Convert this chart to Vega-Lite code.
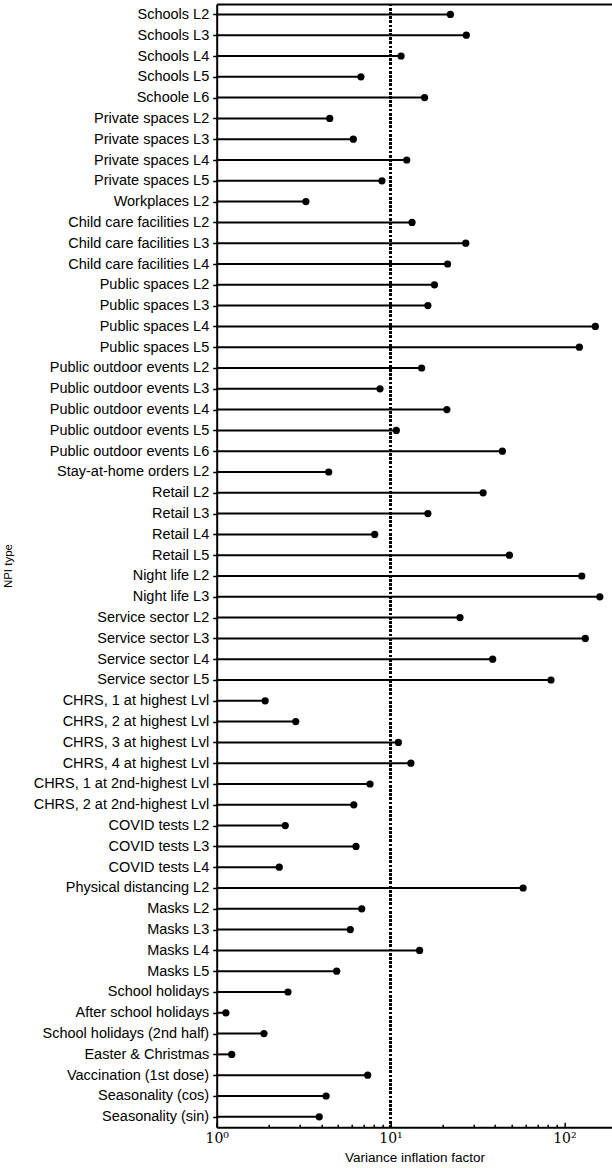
{
  "$schema": "https://vega.github.io/schema/vega-lite/v6.json",
  "autosize": "none",
  "width": 395.5,
  "height": 1123.2,
  "padding": {"left": 216.7, "top": 4, "right": 0, "bottom": 41},
  "background": "white",
  "view": {"stroke": null, "fill": null},
  "config": {
    "font": "Liberation Sans",
    "axis": {"domainColor": "black", "tickColor": "black", "labelColor": "black", "titleColor": "black", "domainWidth": 2, "grid": false}
  },
  "resolve": {"axis": {"x": "independent"}},
  "data": {"values": [
    {"npi": "Schools L2", "vif": 22.1},
    {"npi": "Schools L3", "vif": 27.3},
    {"npi": "Schools L4", "vif": 11.5},
    {"npi": "Schools L5", "vif": 6.76},
    {"npi": "Schoole L6", "vif": 15.7},
    {"npi": "Private spaces L2", "vif": 4.47},
    {"npi": "Private spaces L3", "vif": 6.11},
    {"npi": "Private spaces L4", "vif": 12.4},
    {"npi": "Private spaces L5", "vif": 8.93},
    {"npi": "Workplaces L2", "vif": 3.26},
    {"npi": "Child care facilities L2", "vif": 13.3},
    {"npi": "Child care facilities L3", "vif": 27.1},
    {"npi": "Child care facilities L4", "vif": 21.3},
    {"npi": "Public spaces L2", "vif": 17.9},
    {"npi": "Public spaces L3", "vif": 16.4},
    {"npi": "Public spaces L4", "vif": 150.8},
    {"npi": "Public spaces L5", "vif": 122},
    {"npi": "Public outdoor events L2", "vif": 15.1},
    {"npi": "Public outdoor events L3", "vif": 8.7},
    {"npi": "Public outdoor events L4", "vif": 21.1},
    {"npi": "Public outdoor events L5", "vif": 10.8},
    {"npi": "Public outdoor events L6", "vif": 44.0},
    {"npi": "Stay-at-home orders L2", "vif": 4.41},
    {"npi": "Retail L2", "vif": 34.1},
    {"npi": "Retail L3", "vif": 16.4},
    {"npi": "Retail L4", "vif": 8.11},
    {"npi": "Retail L5", "vif": 48.3},
    {"npi": "Night life L2", "vif": 126},
    {"npi": "Night life L3", "vif": 160},
    {"npi": "Service sector L2", "vif": 25.1},
    {"npi": "Service sector L3", "vif": 132},
    {"npi": "Service sector L4", "vif": 38.7},
    {"npi": "Service sector L5", "vif": 83.8},
    {"npi": "CHRS, 1 at highest Lvl", "vif": 1.9},
    {"npi": "CHRS, 2 at highest Lvl", "vif": 2.85},
    {"npi": "CHRS, 3 at highest Lvl", "vif": 11.1},
    {"npi": "CHRS, 4 at highest Lvl", "vif": 13.1},
    {"npi": "CHRS, 1 at 2nd-highest Lvl", "vif": 7.62},
    {"npi": "CHRS, 2 at 2nd-highest Lvl", "vif": 6.15},
    {"npi": "COVID tests L2", "vif": 2.48},
    {"npi": "COVID tests L3", "vif": 6.33},
    {"npi": "COVID tests L4", "vif": 2.29},
    {"npi": "Physical distancing L2", "vif": 57.9},
    {"npi": "Masks L2", "vif": 6.83},
    {"npi": "Masks L3", "vif": 5.87},
    {"npi": "Masks L4", "vif": 14.7},
    {"npi": "Masks L5", "vif": 4.9},
    {"npi": "School holidays", "vif": 2.57},
    {"npi": "After school holidays", "vif": 1.13},
    {"npi": "School holidays (2nd half)", "vif": 1.87},
    {"npi": "Easter & Christmas", "vif": 1.22},
    {"npi": "Vaccination (1st dose)", "vif": 7.39},
    {"npi": "Seasonality (cos)", "vif": 4.26},
    {"npi": "Seasonality (sin)", "vif": 3.89}
  ]},
  "encoding": {
    "y": {
      "field": "npi", "type": "nominal", "sort": null,
      "scale": {"type": "point", "padding": 0.5},
      "axis": {"title": "NPI type", "titleFontSize": 11.5, "titleFontWeight": "normal", "titleX": -208, "titleY": 561.6, "titleAngle": -90, "titleAlign": "center", "titleBaseline": "middle", "labelFontSize": 14.5, "tickSize": 4, "tickWidth": 1.5, "labelPadding": 4}
    }
  },
  "layer": [
    {
      "mark": {"type": "rule", "color": "black", "strokeWidth": 2},
      "encoding": {
        "x": {
          "field": "vif", "type": "quantitative",
          "scale": {"type": "log", "domain": [1, 188.5], "nice": false, "zero": false},
          "axis": {
            "title": "Variance inflation factor", "titleFontSize": 13.5, "titleFontWeight": "normal", "titlePadding": 5,
            "values": [1, 2, 3, 4, 5, 6, 7, 8, 9, 10, 20, 30, 40, 50, 60, 70, 80, 90, 100],
            "labelExpr": "datum.value == 1 ? '10⁰' : datum.value == 10 ? '10¹' : datum.value == 100 ? '10²' : ''",
            "labelFont": "DejaVu Serif", "labelFontSize": 14, "labelPadding": 9, "labelFlush": false,
            "tickSize": {"condition": {"test": "datum.value == 1 || datum.value == 10 || datum.value == 100", "value": -5}, "value": -3},
            "tickWidth": 1.5
          }
        },
        "x2": {"datum": 1}
      }
    },
    {
      "mark": {"type": "point", "filled": true, "color": "black", "opacity": 1, "size": 52},
      "encoding": {"x": {"field": "vif", "type": "quantitative", "axis": null}}
    },
    {
      "mark": {"type": "rule", "color": "black", "strokeWidth": 2, "strokeDash": [2, 2.2]},
      "encoding": {
        "x": {"datum": 10, "axis": {"orient": "top", "labels": false, "ticks": false, "title": null, "domainWidth": 2}},
        "y": null
      }
    }
  ]
}
